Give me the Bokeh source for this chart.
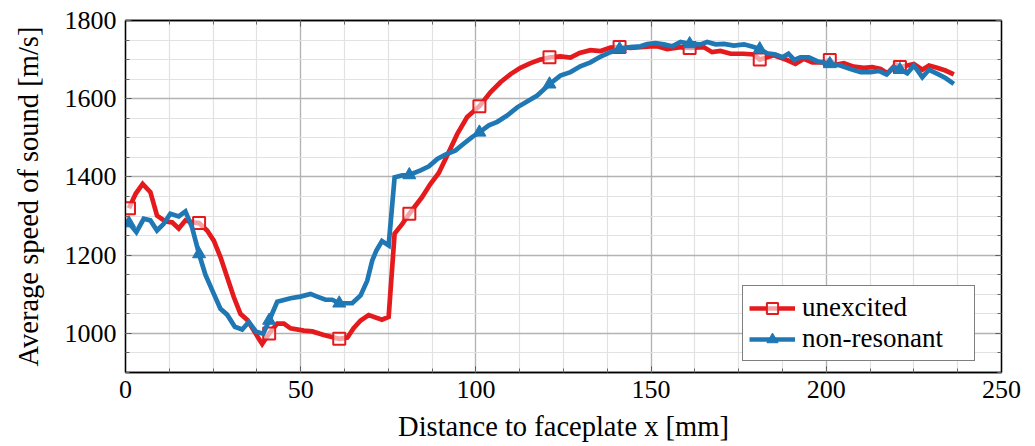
from bokeh.plotting import figure
from bokeh.models import (LinearAxis, Legend, LegendItem, Range1d,
                          SingleIntervalTicker)
from bokeh.embed import file_html
from bokeh.resources import INLINE

# ---- data ----
red_x = [1, 2.9, 4.9, 7.1, 9.0, 11.4, 13.3, 15.2, 17.1, 19.0, 21.0, 23.3, 25.2,
         27.1, 29.0, 30.9, 32.8, 34.7, 37.1, 39.0, 41.0, 43.3, 45.2, 47.1, 50.9,
         53.3, 56.6, 61.0, 63.3, 65.1, 67.1, 69.4, 73.2, 75.1, 76.8, 79.0, 81.0,
         84.6, 87.0, 89.4, 91.8, 94.7, 97.5, 101.0, 104.2, 107.0, 109.9, 112.7,
         115.6, 118.4, 121.3, 124.1, 127.0, 129.6, 132.7, 135.6, 138.4, 141.0,
         144.1, 147.0, 149.8, 151.7, 154.6, 158.4, 161.3, 165.0, 167.4, 169.8,
         172.7, 176.4, 179.3, 181.0, 185.0, 188.8, 191.2, 193.6, 196.0, 198.8,
         201.0, 202.6, 205.0, 207.8, 210.7, 213.1, 215.5, 217.4, 219.8, 221.2,
         225.0, 227.4, 229.3, 231.6, 234.0, 236.4]
red_y = [1320, 1357, 1382, 1361, 1301, 1286, 1284, 1268, 1289, 1284, 1282, 1263,
         1237, 1195, 1144, 1093, 1050, 1035, 1000, 973, 1000, 1025, 1025, 1013,
         1007, 1005, 996, 986, 989, 1013, 1033, 1047, 1035, 1042, 1255, 1280,
         1306, 1348, 1382, 1410, 1455, 1510, 1553, 1581, 1617, 1642, 1663, 1679,
         1691, 1700, 1706, 1708, 1705, 1717, 1724, 1722, 1731, 1732, 1730, 1732,
         1734, 1734, 1727, 1732, 1730, 1732, 1719, 1722, 1715, 1715, 1713, 1700,
         1711, 1699, 1689, 1702, 1693, 1693, 1699, 1687, 1691, 1682, 1679, 1681,
         1676, 1665, 1687, 1681, 1689, 1674, 1685, 1679, 1672, 1662]

blue_x = [1, 3.1, 5.2, 7.1, 9.0, 10.9, 12.8, 15.2, 17.1, 19.0, 21.0, 22.8, 25.2,
          27.1, 29.0, 31.2, 33.3, 35.2, 37.3, 39.3, 41.0, 43.3, 47.1, 49.9, 52.8,
          54.7, 57.1, 59.0, 61.0, 62.8, 64.7, 67.1, 69.0, 70.4, 71.6, 73.2, 75.1,
          76.8, 79.0, 81.0, 84.2, 86.6, 89.0, 91.3, 94.2, 96.5, 98.9, 101.0,
          103.7, 106.1, 108.9, 111.8, 114.6, 117.5, 121.0, 124.1, 127.0, 129.8,
          132.7, 135.6, 138.4, 141.0, 144.1, 147.0, 148.9, 151.3, 153.6, 156.0,
          158.4, 161.3, 164.1, 166.0, 168.4, 170.8, 173.6, 176.5, 179.3, 181.0,
          183.1, 185.5, 187.5, 189.2, 190.9, 192.6, 195.0, 197.4, 201.0, 204.0,
          206.9, 209.8, 212.6, 215.0, 217.2, 219.3, 221.2, 223.1, 225.0, 227.4,
          229.3, 231.6, 234.0, 236.4]
blue_y = [1282, 1259, 1293, 1289, 1263, 1280, 1306, 1299, 1312, 1271, 1203, 1150,
          1101, 1063, 1048, 1017, 1010, 1029, 1004, 999, 1033, 1081, 1090, 1094,
          1101, 1094, 1086, 1086, 1077, 1077, 1077, 1097, 1135, 1186, 1212, 1236,
          1225, 1399, 1404, 1405, 1417, 1427, 1446, 1457, 1468, 1485, 1502, 1514,
          1532, 1541, 1557, 1578, 1593, 1608, 1637, 1659, 1668, 1683, 1693, 1708,
          1719, 1727, 1732, 1734, 1740, 1742, 1739, 1734, 1745, 1740, 1739, 1745,
          1739, 1740, 1736, 1739, 1732, 1727, 1716, 1713, 1706, 1715, 1699, 1706,
          1706, 1696, 1689, 1685, 1676, 1668, 1668, 1671, 1662, 1681, 1674, 1665,
          1685, 1655, 1674, 1664, 1653, 1638]

mark_x = [1, 21, 41, 61, 81, 101, 121, 141, 161, 181, 201, 221]
red_mark_y = [1320, 1282, 1000, 986, 1306, 1581, 1706, 1732, 1730, 1700, 1699, 1681]
blue_mark_y = [1282, 1203, 1033, 1077, 1405, 1514, 1637, 1727, 1740, 1727, 1689, 1674]

x_ticks_interval = 50
y_ticks_interval = 200

RED = "#e41a1c"
BLUE = "#1f77b4"
FONT = "Liberation Serif"

p = figure(width=1035, height=446, x_range=Range1d(0, 250), y_range=Range1d(900, 1800),
           output_backend="svg", toolbar_location=None,
           min_border_left=125, min_border_right=34, min_border_top=20,
           min_border_bottom=74)
p.background_fill_color = "white"
p.border_fill_color = "white"
p.outline_line_color = "black"
p.outline_line_width = 1.3

xt = SingleIntervalTicker(interval=x_ticks_interval, num_minor_ticks=4)
yt = SingleIntervalTicker(interval=y_ticks_interval, num_minor_ticks=4)


def style_axis(ax, ticker, labels=True):
    ax.ticker = ticker
    ax.axis_line_color = "black"
    ax.axis_line_width = 1.3
    ax.major_tick_in = 6
    ax.major_tick_out = 0
    ax.minor_tick_in = 4
    ax.minor_tick_out = 0
    ax.major_tick_line_color = "#555555"
    ax.minor_tick_line_color = "#666666"
    ax.major_label_text_font = FONT
    ax.axis_label_text_font = FONT
    ax.axis_label_text_font_style = "normal"
    ax.axis_label_text_color = "black"
    if labels:
        ax.major_label_text_color = "black"
        ax.major_label_text_font_size = "26px"
        ax.axis_label_text_font_size = "28.5px"
    else:
        ax.major_label_text_color = None
        ax.major_label_text_font_size = "1px"
        ax.major_label_standoff = 0


xa = p.xaxis[0]
ya = p.yaxis[0]
style_axis(xa, xt)
style_axis(ya, yt)
xa.axis_label = "Distance to faceplate x [mm]"
ya.axis_label = "Average speed of sound [m/s]"
xa.major_label_standoff = 8
xa.axis_label_standoff = 10
ya.major_label_standoff = 9
ya.axis_label_standoff = 18

ra = LinearAxis()
style_axis(ra, yt, labels=False)
p.add_layout(ra, "right")
ta = LinearAxis()
style_axis(ta, xt, labels=False)
p.add_layout(ta, "above")

for g in (p.xgrid[0], p.ygrid[0]):
    g.grid_line_color = "#b3b3b3"
    g.grid_line_width = 1.3
    g.minor_grid_line_color = "#e2e2e2"
    g.minor_grid_line_width = 1.2
p.xgrid[0].ticker = xt
p.ygrid[0].ticker = yt

r_line = p.line(red_x, red_y, line_color=RED, line_width=4.7, line_join="miter")
r_mark = p.scatter(mark_x, red_mark_y, marker="square", size=12, line_color=RED,
                   line_width=2, fill_color="white", fill_alpha=0.6)
b_line = p.line(blue_x, blue_y, line_color=BLUE, line_width=4.7, line_join="miter")
b_mark = p.scatter(mark_x, blue_mark_y, marker="triangle", size=13, line_color=BLUE,
                   fill_color=BLUE)

legend = Legend(items=[LegendItem(label="unexcited", renderers=[r_line, r_mark]),
                       LegendItem(label="non-resonant", renderers=[b_line, b_mark])],
                location=(617, 11), margin=0, padding=6, spacing=0,
                glyph_width=46, glyph_height=28, label_height=28, label_width=166,
                label_standoff=7, border_line_color="black", border_line_width=1,
                background_fill_color="white", background_fill_alpha=1,
                label_text_font=FONT, label_text_font_size="27px",
                label_text_color="black")
p.add_layout(legend)

open("out.html", "w").write(file_html(p, INLINE))
